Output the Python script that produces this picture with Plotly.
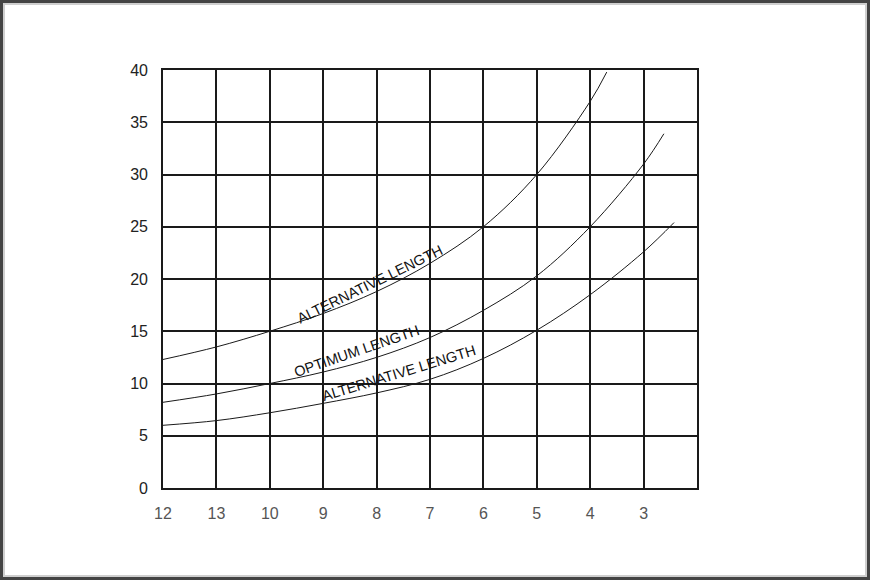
import plotly.graph_objects as go

# chart values
x_ticks = [12, 11, 10, 9, 8, 7, 6, 5, 4, 3]
x_labels = ["12", "13", "10", "9", "8", "7", "6", "5", "4", "3"]

upper_x = [12, 11, 10, 9, 8, 7, 6, 5, 4, 3.69]
upper_y = [12.3, 13.5, 15.0, 16.7, 18.8, 21.5, 25.0, 30.0, 37.0, 39.8]

optimum_x = [12, 11, 10, 9, 8, 7, 6, 5, 4, 3, 2.62]
optimum_y = [8.2, 9.0, 10.0, 11.1, 12.5, 14.4, 17.0, 20.3, 25.0, 31.0, 33.9]

lower_x = [12, 11, 10, 9, 8, 7, 6, 5, 4, 3, 2.43]
lower_y = [6.0, 6.45, 7.2, 8.1, 9.1, 10.4, 12.4, 15.1, 18.5, 22.6, 25.4]

labels = ["ALTERNATIVE LENGTH", "OPTIMUM LENGTH", "ALTERNATIVE LENGTH"]
label_x = [8.12, 8.37, 7.58]
label_y = [19.5, 13.1, 11.0]
label_angle = [-26, -19, -17]

W, H = 870, 580
L, R, T, B = 163, 173, 70, 92

fig = go.Figure()
for xs, ys in [(upper_x, upper_y), (optimum_x, optimum_y), (lower_x, lower_y)]:
    fig.add_trace(go.Scatter(x=xs, y=ys, mode="lines",
                             line=dict(color="#1a1a1a", width=1, shape="spline"),
                             hoverinfo="skip"))

for txt, lx, ly, ang in zip(labels, label_x, label_y, label_angle):
    fig.add_annotation(x=lx, y=ly, text=txt, showarrow=False, textangle=ang,
                       font=dict(family="Liberation Sans", size=14.5, color="#111"))

# grey photo frame round the whole picture
pw, ph = W - L - R, H - T - B
fig.add_shape(type="rect", xref="paper", yref="paper",
              x0=-L / pw, x1=1 + R / pw, y0=-B / ph, y1=1 + T / ph,
              line=dict(color="#444", width=6), layer="above")
fig.add_shape(type="rect", xref="paper", yref="paper",
              x0=-(L - 4) / pw, x1=1 + (R - 4) / pw, y0=-(B - 4) / ph, y1=1 + (T - 4) / ph,
              line=dict(color="#cfcfcf", width=2), layer="above")

fig.update_layout(
    width=W, height=H,
    margin=dict(l=L, r=R, t=T, b=B),
    paper_bgcolor="white", plot_bgcolor="white",
    showlegend=False,
)
fig.update_xaxes(range=[12, 2], tickvals=x_ticks, ticktext=x_labels,
                 showgrid=True, gridcolor="#1a1a1a", gridwidth=1.5,
                 showline=True, linecolor="#1a1a1a", linewidth=1.6, mirror=True,
                 zeroline=False, ticks="", ticklabelstandoff=10,
                 tickfont=dict(family="Liberation Sans", size=16, color="#555"))
fig.update_yaxes(range=[0, 40], tickvals=list(range(0, 41, 5)),
                 showgrid=True, gridcolor="#1a1a1a", gridwidth=1.5,
                 showline=True, linecolor="#1a1a1a", linewidth=1.6, mirror=True,
                 zeroline=False, ticks="", ticklabelstandoff=10,
                 tickfont=dict(family="Liberation Sans", size=16, color="#222"))

fig.write_html("out.html", config={"displayModeBar": False},
               post_script="document.body.style.margin='0';document.body.style.overflow='hidden';")
